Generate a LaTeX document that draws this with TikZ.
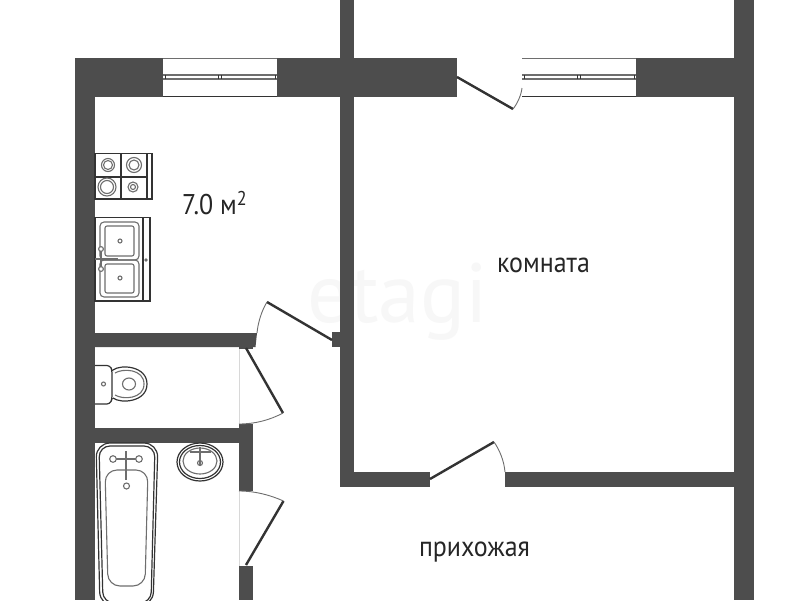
\documentclass[tikz,border=0pt]{standalone}
\usepackage{fontspec}
\setmainfont{PT Sans}
\definecolor{wallc}{HTML}{4D4D4D}
\definecolor{linec}{HTML}{333333}
\definecolor{softc}{HTML}{6E6E6E}
\definecolor{jambc}{HTML}{D8D8D8}
\tikzset{
  wall/.style={fill=wallc,draw=none},
  leaf/.style={draw=linec,line width=2.4pt},
  swing/.style={draw=softc,line width=0.9pt},
  fixture/.style={draw=linec,line width=1.2pt},
  fixturesoft/.style={draw=softc,line width=1.1pt},
  label/.style={font=\fontsize{28.5}{32}\selectfont,text=black!85,inner sep=0pt},
  jamb/.style={draw=jambc,line width=0.7pt},
}
\newcommand{\narrowtext}[1]{\scalebox{0.91}[1]{#1}}
\newcommand{\windowat}[2]{%
  \fill[white] (#1,58) rectangle (#2,97);
  \draw[softc,line width=1pt] (#1,58.5) -- (#2,58.5);
  \draw[linec,line width=1pt] (#1,96.7) -- (#2,96.7);
  \draw[softc,line width=1.2pt] (#1,75) -- (#2,75);
  \draw[softc,line width=1.2pt] (#1,79) -- (#2,79);
  \draw[linec,line width=0.8pt] (#1+2,75) -- (#1+2,79);
  \draw[linec,line width=0.8pt] (#2-2,75) -- (#2-2,79);
  \draw[linec,line width=0.8pt] ({(#1+#2)/2-2},75) -- ({(#1+#2)/2-2},79);
  \draw[linec,line width=0.8pt] ({(#1+#2)/2+1},75) -- ({(#1+#2)/2+1},79);
}
\begin{document}
\begin{tikzpicture}[x=1pt,y=-1pt]
\useasboundingbox (0,0) rectangle (800,600);
\fill[white] (0,0) rectangle (800,600);
% watermark
\node[font=\fontsize{84}{90}\selectfont,text=black!3,inner sep=0pt] (mark) at (398,302) {etagi};
% walls
\fill[wall] (75,58) rectangle (457,97);
\fill[wall] (636,58) rectangle (754,97);
\fill[wall] (75,58) rectangle (95,600);
\fill[wall] (340,0) rectangle (354,58);
\fill[wall] (340,97) rectangle (354,487);
\fill[wall] (734,0) rectangle (754,600);
\fill[wall] (340,472) rectangle (430,487);
\fill[wall] (505,472) rectangle (734,487);
\fill[wall] (332,332) rectangle (340,347);
\fill[wall] (95,333) -- (257,333) -- (255.5,347) -- (95,347) -- cycle;
\fill[wall] (239,347) rectangle (253,349);
\fill[wall] (95,428) rectangle (239,443);
\fill[wall] (239,424) rectangle (253,491);
\fill[wall] (239,566) rectangle (253,600);
% thin jamb lines
\draw[jamb] (239,349) -- (239,424);
\draw[jamb] (239,491) -- (239,566);
% windows
\windowat{163}{277}
\windowat{522}{636}
% doors
\coordinate (kh) at (332,340); \coordinate (kt) at (267,302); \coordinate (ke) at (257,333);
\draw[leaf] (kh) -- (kt);
\draw[swing] (kt) .. controls (262,310) and (258,322) .. (ke);
\coordinate (wh) at (246,348); \coordinate (wt) at (283,413); \coordinate (we) at (239,424);
\draw[leaf] (wh) -- (wt);
\draw[swing] (wt) .. controls (270,420) and (255,424) .. (we);
\coordinate (bh) at (246,565); \coordinate (bt) at (283.5,501); \coordinate (be) at (239,491);
\draw[leaf] (bh) -- (bt);
\draw[swing] (bt) .. controls (270,495) and (255,491) .. (be);
\coordinate (th) at (457,77); \coordinate (tt) at (513,109); \coordinate (te) at (522,88);
\draw[leaf] (th) -- (tt);
\draw[swing] (tt) .. controls (517,104) and (521,96) .. (te);
\coordinate (rh) at (430,479); \coordinate (rt) at (494,442); \coordinate (re) at (505,472);
\draw[leaf] (rh) -- (rt);
\draw[swing] (rt) .. controls (499,449) and (504,460) .. (re);
% stove
\draw[fixture] (95,153.5) rectangle (152,199);
\draw[fixture] (121,153.5) -- (121,199);
\draw[fixture] (95,177) -- (147,177);
\draw[fixture] (147,153.5) -- (147,199);
\foreach \cx/\cy/\ra/\rb in {108/165/6.5/4.5,134/165/7.5/5,107/187/9/6.5,133/187/5/2.5}{
  \draw[fixturesoft] (\cx,\cy) circle[radius=\ra];
  \draw[fixturesoft] (\cx,\cy) circle[radius=\rb];
}
% kitchen sink
\draw[fixture] (95,217.5) rectangle (150,301);
\draw[fixture] (143,217.5) -- (143,301);
\draw[fixturesoft,rounded corners=4pt] (100,222) rectangle (139,260);
\draw[fixturesoft,rounded corners=4pt] (100,260) rectangle (139,297);
\draw[fixturesoft,rounded corners=2pt] (105,226) rectangle (134,256);
\draw[fixturesoft,rounded corners=2pt] (105,264) rectangle (134,293);
\draw[fixturesoft] (120,241) circle[radius=2];
\draw[fixturesoft] (120,278) circle[radius=2];
\draw[fixturesoft] (146,260) circle[radius=1];
\draw[fixturesoft,line width=1.6pt] (95,259) -- (118,259);
\draw[fixturesoft,line width=2.4pt] (101,250) -- (101,270);
\draw[fixturesoft,fill=white] (101,249) circle[radius=2.4];
\draw[fixturesoft,fill=white] (101,269) circle[radius=2.4];
% toilet
\draw[fixture,rounded corners=3pt] (95,365.5) -- (110,365.5) -- (112,370) -- (112,399) -- (110,404) -- (95,404);
\draw[fixturesoft] (103.5,384) circle[radius=2];
\draw[fixture] (113,370) .. controls (121,364) and (147,366) .. (147,384) .. controls (147,402) and (121,404) .. (113,398);
\draw[fixturesoft] (115,373) .. controls (123,368) and (144,369) .. (144,384) .. controls (144,399) and (123,400) .. (115,395);
\draw[fixturesoft] (129,384) ellipse[x radius=6.5,y radius=6];
% bath
\draw[fixture,rounded corners=14pt] (96,443) -- (158,443) -- (153,606) -- (100,606) -- cycle;
\draw[fixture,rounded corners=11pt] (99,446) -- (155,446) -- (151,603) -- (103,603) -- cycle;
\draw[fixturesoft,rounded corners=12pt] (105,470) -- (148,470) -- (145,586) -- (108,586) -- cycle;
\draw[fixturesoft,line width=1.8pt] (126,451) -- (126,480);
\draw[fixturesoft,line width=1.8pt] (114,459) -- (139,459);
\draw[fixturesoft,fill=white] (113,459) circle[radius=3.3];
\draw[fixturesoft,fill=white] (139,459) circle[radius=3.3];
\draw[fixturesoft,fill=white] (126.5,486) circle[radius=3];
% washbasin
\draw[fixture] (200,462) ellipse[x radius=23,y radius=19];
\draw[fixture] (200,462) ellipse[x radius=20.5,y radius=16.5];
\draw[fixturesoft] (200,461) ellipse[x radius=17,y radius=13];
\draw[fixturesoft,line width=1.6pt] (200,447) -- (200,465);
\draw[fixturesoft,line width=1.6pt] (190,452) -- (211,452);
\draw[fixturesoft] (200,463) circle[radius=2.5];
% labels
\node[label,anchor=base west] (area) at (182,214.5) {\narrowtext{7.0 м\textsuperscript{2}}};
\node[label,anchor=base] (room) at (543.5,272) {\narrowtext{комната}};
\node[label,anchor=base] (hall) at (474.5,556) {\narrowtext{прихожая}};
\end{tikzpicture}
\end{document}
